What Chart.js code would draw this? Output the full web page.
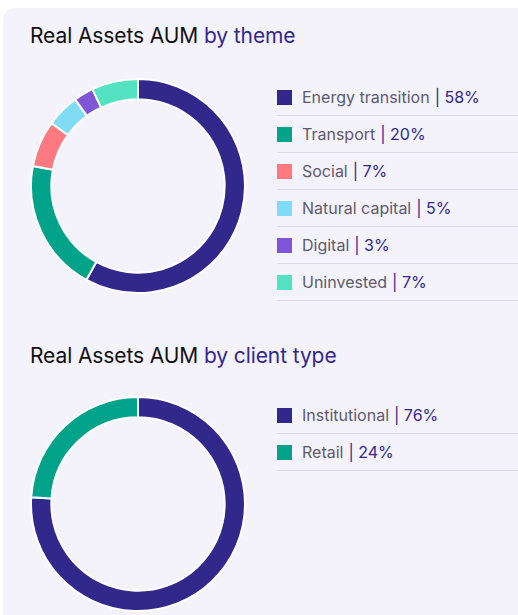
<!DOCTYPE html>
<html>
<head>
<meta charset="utf-8">
<script src="https://cdn.jsdelivr.net/npm/chart.js@4"></script>
<style>
  body { margin: 0; background: #ffffff; width: 518px; height: 615px; overflow: hidden; position: relative; font-family: "Inter", "Noto Sans", sans-serif; }
  .card { position: absolute; left: 3px; top: 8px; width: 560px; height: 640px; background: #f4f2fb; border-radius: 12px; }
  .title { position: absolute; left: 30px; font-size: 21px; color: #111111; white-space: nowrap; letter-spacing: -0.1px; }
  .title span { color: #32288c; }
  .chartbox { position: absolute; left: 30px; width: 216px; height: 216px; }
  .legend { position: absolute; left: 277px; width: 241px; margin: 0; padding: 0; list-style: none; }
  .legend li { height: 36px; border-bottom: 1.5px solid #dcd9e8; display: flex; align-items: center; font-size: 16px; color: #5d5b6b; white-space: nowrap; }
  .legend .sw { width: 15px; height: 15px; margin-right: 10px; flex: none; }
  .legend .pct { color: #32288c; margin-left: 5px; }
</style>
</head>
<body>
<div class="card"></div>

<div class="title" style="top:23px">Real Assets AUM <span>by theme</span></div>
<div class="chartbox" style="top:78px"><canvas id="themeChart" width="216" height="216"></canvas></div>
<ul class="legend" id="themeLegend" style="top:79px"></ul>

<div class="title" style="top:343px">Real Assets AUM <span>by client type</span></div>
<div class="chartbox" style="top:396px"><canvas id="clientChart" width="216" height="216"></canvas></div>
<ul class="legend" id="clientLegend" style="top:397px"></ul>

<script>
// chart data
var theme_labels = ["Energy transition", "Transport", "Social", "Natural capital", "Digital", "Uninvested"];
var theme_values = [58, 20, 7, 5, 3, 7];
var theme_colors = ["#32288c", "#00a389", "#ff7a80", "#80dcf4", "#7f56d8", "#53e3c3"];

var client_labels = ["Institutional", "Retail"];
var client_values = [76, 24];
var client_colors = ["#32288c", "#00a389"];

function build_legend(list_id, labels, values, colors) {
    // html legend, one row per slice
    var list = document.getElementById(list_id);
    for (var i = 0; i < labels.length; i++) {
        var li = document.createElement("li");
        var sw = document.createElement("span");
        sw.className = "sw";
        sw.style.background = colors[i];
        li.appendChild(sw);
        var name = document.createElement("span");
        name.textContent = labels[i];
        li.appendChild(name);
        var pct = document.createElement("span");
        pct.className = "pct";
        pct.textContent = "| " + values[i] + "%";
        li.appendChild(pct);
        list.appendChild(li);
    }
}

function make_donut(canvas_id, labels, values, colors) {
    new Chart(
        document.getElementById(canvas_id),
        {
            type: "doughnut",
            data: {
                labels: labels,
                datasets: [
                    {
                        data: values,
                        backgroundColor: colors,
                        borderColor: "#ffffff",
                        borderWidth: 2,
                        hoverOffset: 0
                    }
                ]
            },
            options: {
                responsive: false,
                animation: false,
                cutout: "81%",
                layout: { padding: 0 },
                plugins: {
                    legend: { display: false },
                    tooltip: { enabled: false }
                }
            }
        }
    );
}

function main() {
    build_legend("themeLegend", theme_labels, theme_values, theme_colors);
    build_legend("clientLegend", client_labels, client_values, client_colors);
    make_donut("themeChart", theme_labels, theme_values, theme_colors);
    make_donut("clientChart", client_labels, client_values, client_colors);
}

main();
</script>
</body>
</html>
